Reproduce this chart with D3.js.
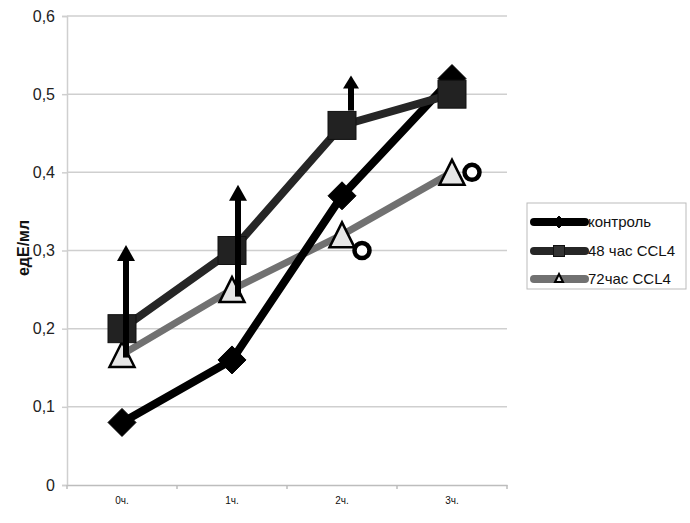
<!DOCTYPE html>
<html><head><meta charset="utf-8">
<script src="https://cdn.jsdelivr.net/npm/d3@7"></script>
<style>body{margin:0;background:#fff}svg{display:block}text{font-family:"Liberation Sans",Arial,sans-serif}</style>
</head><body>
<svg id="c" width="690" height="523"></svg>
<script>
const categories = ["0ч.", "1ч.", "2ч.", "3ч."];
const yTicks = [0, 0.1, 0.2, 0.3, 0.4, 0.5, 0.6];
const yTickLabels = ["0", "0,1", "0,2", "0,3", "0,4", "0,5", "0,6"];
const controlValues = [0.08, 0.16, 0.37, 0.52];
const ccl48Values = [0.20, 0.30, 0.46, 0.50];
const ccl72Values = [0.167, 0.25, 0.32, 0.40];
const seriesNames = ["контроль", "48 час CCL4", "72час CCL4"];
// upward arrows (annotations): category, from value, to value
const arrowCats = ["0ч.", "1ч.", "2ч."];
const arrowFrom = [0.163, 0.241, 0.479];
const arrowTo = [0.307, 0.384, 0.524];
// open circle markers
const circleCats = ["2ч.", "3ч."];
const circleValues = [0.30, 0.40];

const svg = d3.select("#c");
const mLeft = 67, mRight = 507, mTop = 16, mBottom = 485;
const x = d3.scaleBand().domain(categories).range([mLeft, mRight]);
const y = d3.scaleLinear().domain([0, 0.6]).range([mBottom, mTop]);
const cx = c => x(c) + x.bandwidth() / 2;

// gridlines
svg.append("g").selectAll("line").data(yTicks.slice(1)).join("line")
  .attr("x1", mLeft).attr("x2", mRight).attr("y1", d => y(d)).attr("y2", d => y(d))
  .attr("stroke", "#cfcfcf").attr("stroke-width", 1.5);
// y axis
const ya = svg.append("g").attr("transform", `translate(${mLeft},0)`)
  .call(d3.axisLeft(y).tickValues(yTicks).tickFormat((d, i) => yTickLabels[i]).tickSize(5).tickPadding(7));
ya.select(".domain").attr("stroke", "#cfcfcf").attr("stroke-width", 1.5);
ya.selectAll(".tick line").attr("stroke", "#cfcfcf").attr("stroke-width", 1.5);
ya.selectAll("text").attr("font-size", 16).attr("fill", "#222").attr("font-family", "Liberation Sans, Arial");
// x axis
const xa = svg.append("g").attr("transform", `translate(0,${mBottom})`)
  .call(d3.axisBottom(x).tickSize(0).tickPadding(12));
xa.select(".domain").attr("stroke", "#bdbdbd").attr("stroke-width", 1.5);
xa.selectAll("text").attr("font-size", 10).attr("fill", "#111").attr("font-family", "Liberation Sans, Arial");
svg.append("g").selectAll("line").data(d3.range(categories.length + 1)).join("line")
  .attr("x1", i => mLeft + i * x.bandwidth()).attr("x2", i => mLeft + i * x.bandwidth())
  .attr("y1", mBottom).attr("y2", mBottom + 4).attr("stroke", "#bdbdbd").attr("stroke-width", 1.5);

// y title
svg.append("text").attr("transform", "translate(29,248) rotate(-90)")
  .attr("text-anchor", "middle").attr("font-size", 16).attr("font-weight", "bold").attr("fill", "#111")
  .text("едЕ/мл");

const line = d3.line().x((d, i) => cx(categories[i])).y(d => y(d));

function diamond(g, px, py, r, fill) {
  g.append("path").attr("d", `M${px},${py - r}L${px + r},${py}L${px},${py + r}L${px - r},${py}Z`)
    .attr("fill", fill).attr("stroke", "#000").attr("stroke-width", 1);
}
function square(g, px, py, s, fill) {
  g.append("rect").attr("x", px - s / 2).attr("y", py - s / 2).attr("width", s).attr("height", s)
    .attr("fill", fill).attr("stroke", "#111").attr("stroke-width", 1);
}
function tri(g, px, py, s, fill, sw) {
  const h = s;
  g.append("path").attr("d", `M${px},${py - h / 2}L${px + s / 2},${py + h / 2}L${px - s / 2},${py + h / 2}Z`)
    .attr("fill", fill).attr("stroke", "#000").attr("stroke-width", sw).attr("stroke-linejoin", "miter");
}

// 72h series
const g72 = svg.append("g");
g72.append("path").datum(ccl72Values).attr("d", line).attr("fill", "none").attr("stroke", "#717171").attr("stroke-width", 7);
ccl72Values.forEach((v, i) => tri(g72, cx(categories[i]), y(v), 25, "#e6e6e6", 2.5));
// control series
const gc = svg.append("g");
gc.append("path").datum(controlValues).attr("d", line).attr("fill", "none").attr("stroke", "#000").attr("stroke-width", 8);
controlValues.forEach((v, i) => diamond(gc, cx(categories[i]), y(v), 14, "#000"));
// 48h series
const g48 = svg.append("g");
g48.append("path").datum(ccl48Values).attr("d", line).attr("fill", "none").attr("stroke", "#262626").attr("stroke-width", 8);
ccl48Values.forEach((v, i) => square(g48, cx(categories[i]), y(v), 28, "#222"));

// arrows
const ga = svg.append("g");
arrowCats.forEach((c, i) => {
  const px = cx(c) + 4 + (i === 2 ? 5 : (i === 1 ? 2 : 0));
  const yTop = y(arrowTo[i]), yBot = y(arrowFrom[i]);
  const hh = i === 2 ? 13 : 16, hw = i === 2 ? 8 : 9;
  ga.append("line").attr("x1", px).attr("x2", px).attr("y1", yBot).attr("y2", yTop + hh - 1)
    .attr("stroke", "#000").attr("stroke-width", 6);
  ga.append("path").attr("d", `M${px},${yTop}L${px + hw},${yTop + hh}L${px - hw},${yTop + hh}Z`).attr("fill", "#000");
});
// circles
svg.append("g").selectAll("circle").data(circleValues).join("circle")
  .attr("cx", (d, i) => cx(circleCats[i]) + 20).attr("cy", d => y(d))
  .attr("r", 7.5).attr("fill", "#fff").attr("stroke", "#000").attr("stroke-width", 4.5);

// legend
const lg = svg.append("g");
lg.append("rect").attr("x", 527).attr("y", 203).attr("width", 159).attr("height", 86)
  .attr("fill", "#fff").attr("stroke", "#bbb").attr("stroke-width", 1);
const legY = [222, 251, 279];
const legStroke = ["#000", "#262626", "#717171"];
seriesNames.forEach((n, i) => {
  lg.append("line").attr("x1", 534).attr("x2", 585).attr("y1", legY[i]).attr("y2", legY[i])
    .attr("stroke", legStroke[i]).attr("stroke-width", 8).attr("stroke-linecap", "round");
  if (i === 0) diamond(lg, 559, legY[i], 6, "#000");
  if (i === 1) square(lg, 559, legY[i], 11, "#333");
  if (i === 2) tri(lg, 559, legY[i] - 1, 8, "#e6e6e6", 2);
  lg.append("text").attr("x", 588).attr("y", legY[i] + 5).attr("font-size", 15).attr("fill", "#111").text(n);
});
</script>
</body></html>
